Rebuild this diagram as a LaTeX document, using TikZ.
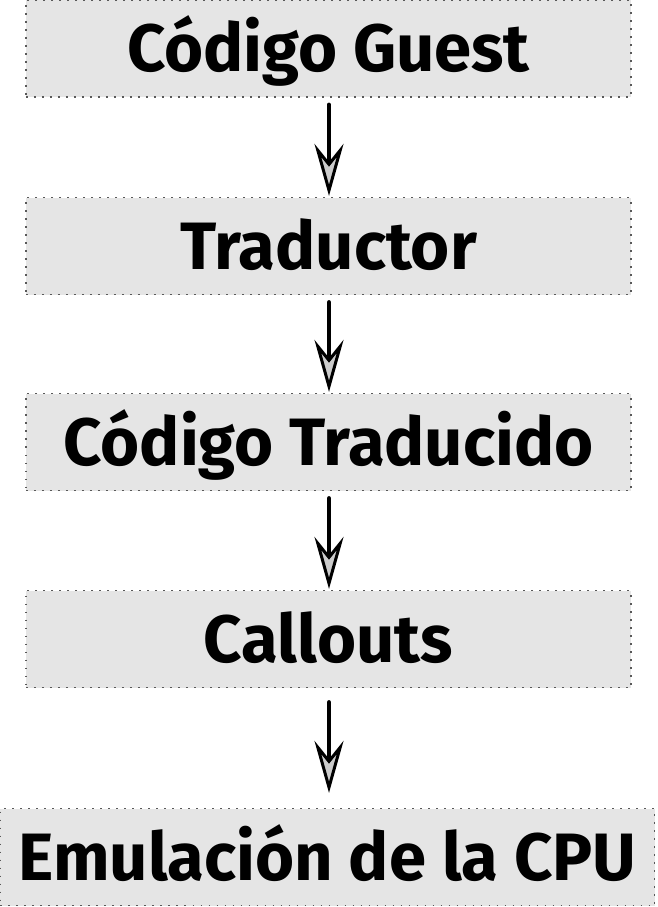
\documentclass[tikz,border=0pt]{standalone}
\usepackage{fontspec}
\setmainfont{Fira Sans}
\usetikzlibrary{arrows.meta}
\tikzset{
  box/.style={fill=black!10, draw=black!65, line width=1.2bp, dash pattern=on 1.6bp off 6.4bp,
    inner sep=0pt, minimum width=605bp, minimum height=97bp,
    font=\fontsize{67bp}{70bp}\selectfont\bfseries, text height=46bp, text depth=0bp},
  arr/.style={line width=4bp, line cap=round,
    -{Stealth[length=52bp, width=29bp, inset=18bp, fill=black!20, line width=3bp]}},
}
\begin{document}
\begin{tikzpicture}[x=1bp,y=-1bp]
\useasboundingbox (0,0) rectangle (658,907);
\node[box] (g) at (328.5,48.5) {Código Guest};
\node[box] (t) at (328.5,246) {Traductor};
\node[box] (c) at (328.5,442) {Código Traducido};
\node[box] (o) at (328.5,639) {Callouts};
\node[box, minimum width=654bp] (e) at (327.5,857) {Emulación de la CPU};
\draw[arr, shorten <=7bp, shorten >=1bp] (g.south -| 329,0) -- (t.north -| 329,0);
\draw[arr, shorten <=7bp, shorten >=1bp] (t.south -| 329,0) -- (c.north -| 329,0);
\draw[arr, shorten <=7bp, shorten >=1bp] (c.south -| 329,0) -- (o.north -| 329,0);
\draw[arr, shorten <=14bp, shorten >=15bp] (o.south -| 329,0) -- (e.north -| 329,0);
\end{tikzpicture}
\end{document}
